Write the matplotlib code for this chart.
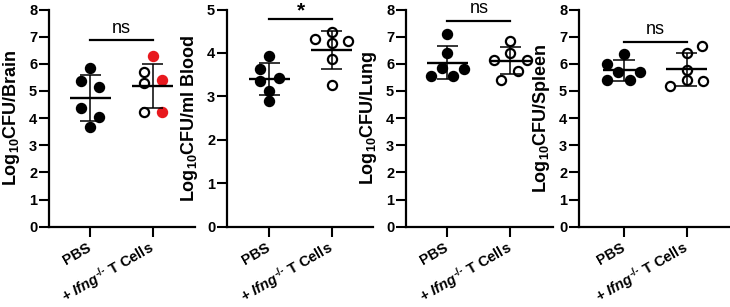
import matplotlib
matplotlib.use("Agg")
import matplotlib.pyplot as plt
import numpy as np

plt.rcParams['font.family'] = ['Liberation Sans', 'DejaVu Sans']
plt.rcParams['font.weight'] = 'bold'
plt.rcParams['mathtext.fontset'] = 'custom'
plt.rcParams['mathtext.rm'] = 'Liberation Sans:bold'
plt.rcParams['mathtext.bf'] = 'Liberation Sans:bold'
plt.rcParams['mathtext.it'] = 'Liberation Sans:italic:bold'

# group labels on the x axis
groups = ['PBS', r'+ $\mathit{Ifng}^{\text{-/-}}$ T Cells']

# log10 CFU per mouse
brain_pbs = [5.86, 5.36, 5.15, 4.38, 4.05, 3.67]
brain_ifng = [6.28, 5.69, 5.42, 5.28, 4.22, 4.22]
brain_ifng_red = [True, False, True, False, False, True]
blood_pbs = [3.93, 3.63, 3.43, 3.36, 3.12, 2.89]
blood_ifng = [4.49, 4.31, 4.27, 4.23, 3.87, 3.27]
lung_pbs = [7.10, 6.40, 5.85, 5.81, 5.56, 5.56]
lung_ifng = [6.83, 6.40, 6.15, 6.15, 5.75, 5.41]
spleen_pbs = [6.35, 6.01, 5.68, 5.68, 5.40, 5.40]
spleen_ifng = [6.66, 6.39, 5.77, 5.40, 5.35, 5.19]

ylabels = [r'Log$_{10}$CFU/Brain', r'Log$_{10}$CFU/ml Blood',
           r'Log$_{10}$CFU/Lung', r'Log$_{10}$CFU/Spleen']
ymax = [8, 5, 8, 8]
sig_text = ['ns', '*', 'ns', 'ns']
sig_height = [6.86, 4.77, 7.59, 6.81]

# horizontal scatter of the dots (layout only)
brain_dx = ([0, -0.145, 0.145, -0.145, 0.145, 0],
            [0, -0.145, 0.145, -0.145, -0.145, 0.145])
blood_dx = ([0, -0.145, 0.15, -0.145, 0, 0],
            [0, -0.27, 0.26, 0, 0, 0])
lung_dx = ([0, 0, -0.085, 0.26, -0.27, 0.09],
           [0, 0, -0.26, 0.26, 0.12, -0.15])
spleen_dx = ([0, -0.27, -0.09, 0.26, -0.27, 0.09],
             [0.25, 0, 0, 0, 0.27, -0.26])

panels = [
    (brain_pbs, brain_ifng, brain_dx),
    (blood_pbs, blood_ifng, blood_dx),
    (lung_pbs, lung_ifng, lung_dx),
    (spleen_pbs, spleen_ifng, spleen_dx),
]

W, H = 730, 307
fig = plt.figure(figsize=(7.3, 3.07), dpi=100)
lefts = [49, 227, 406, 579]
widths = [146, 146, 147, 150]
xlims = [(-0.66, 1.68), (-0.68, 1.66), (-0.66, 1.68), (-0.72, 1.68)]
bottom_px, top_px = 226.7, 9.5

red = '#e8191e'

for i, (pbs, ifng, dx) in enumerate(panels):
    ax = fig.add_axes([lefts[i] / W, (H - bottom_px) / H,
                       widths[i] / W, (bottom_px - top_px) / H])
    for g, vals in enumerate([pbs, ifng]):
        vals = np.array(vals)
        xs = g + np.array(dx[g])
        for k, (x, v) in enumerate(zip(xs, vals)):
            if g == 0:
                ax.plot(x, v, 'o', ms=7.2, color='black', zorder=2, clip_on=False)
            elif i == 0 and brain_ifng_red[k]:
                ax.plot(x, v, 'o', ms=7.2, color=red, zorder=2, clip_on=False)
            else:
                ax.plot(x, v, 'o', ms=6.6, mfc='none', mec='black', mew=1.6,
                        zorder=2, clip_on=False)
        m = vals.mean()
        sd = vals.std(ddof=1)
        ax.hlines(m, g - 0.33, g + 0.33, color='black', lw=1.7, zorder=3)
        ax.vlines(g, m - sd, m + sd, color='black', lw=1.1, zorder=3)
        ax.hlines([m - sd, m + sd], g - 0.17, g + 0.17, color='black', lw=1.1, zorder=3)

    # significance bar
    h = sig_height[i]
    ax.plot([0, 1], [h, h], color='black', lw=1.6, clip_on=False)
    if sig_text[i] == '*':
        ax.text(0.5, h + 0.06, '*', ha='center', va='baseline',
                fontsize=15, fontweight='bold', clip_on=False)
    else:
        ax.text(0.5, h + 0.29, sig_text[i], ha='center', va='baseline',
                fontsize=13, fontweight='normal', clip_on=False)

    ax.set_xlim(*xlims[i])
    ax.set_ylim(0, ymax[i])
    ax.set_yticks(range(0, ymax[i] + 1))
    ax.set_xticks([0, 1])
    ax.set_xticklabels(groups, rotation=30, ha='right', va='center',
                       rotation_mode='anchor', fontsize=10.5, fontweight='bold')
    ax.tick_params(axis='both', width=1.5, length=7)
    ax.tick_params(axis='x', pad=7)
    ax.tick_params(axis='y', pad=1.5, labelsize=10.5)
    for lab in ax.get_yticklabels():
        lab.set_fontweight('bold')
    ax.spines['top'].set_visible(False)
    ax.spines['right'].set_visible(False)
    ax.spines['left'].set_linewidth(1.6)
    ax.spines['bottom'].set_linewidth(1.6)
    ax.set_ylabel(ylabels[i], fontsize=13, fontweight='bold', labelpad=5)

fig.savefig('out.png', dpi=100)
